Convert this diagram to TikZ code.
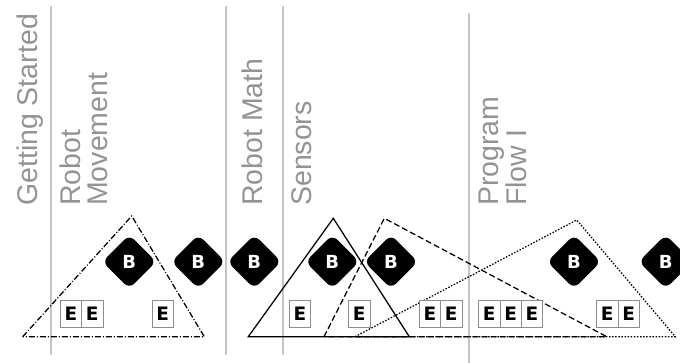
\documentclass[tikz,border=0pt]{standalone}
\usepackage{fontspec}
\setmainfont{Liberation Sans}
\newfontfamily\markfont{DejaVu Sans}
\usetikzlibrary{shapes.geometric}
\definecolor{rulegray}{HTML}{C4C4C4}
\definecolor{labelgray}{HTML}{939393}
\definecolor{boxgray}{HTML}{8C8C8C}
\begin{document}
\begin{tikzpicture}[x=1pt,y=-1pt,
  divider/.style={draw=rulegray, line width=1.2pt},
  unitlabel/.style={rotate=90, inner sep=0pt, text=labelgray, align=left,
    font=\fontsize{28.5}{27.5}\selectfont},
  tri/.style={line width=1.25pt, line join=miter},
  badge/.style={diamond, fill=black, rounded corners=7pt, inner sep=0pt,
    minimum width=54pt, minimum height=54pt, text=white,
    font=\markfont\bfseries\fontsize{18}{18}\selectfont},
  exbox/.style={rectangle, draw=boxgray, fill=white, line width=0.8pt,
    minimum width=21.3pt, minimum height=26.7pt, inner sep=0pt,
    font=\markfont\bfseries\fontsize{18.5}{18.5}\selectfont}]
\useasboundingbox (0,0) rectangle (680,363);

% column dividers
\draw[divider] (51,6) -- (51,355);
\draw[divider] (226,6) -- (226,355);
\draw[divider] (283,6) -- (283,355);
\draw[divider] (469,13) -- (469,363);

% column headings
\node[unitlabel, anchor=base west] (gs) at (37.3,206) {Getting Started};
\node[unitlabel, anchor=south west] (rmv) at (108.3,206) {Robot\\Movement};
\node[unitlabel, anchor=base west] (rmath) at (262.7,206) {Robot Math};
\node[unitlabel, anchor=base west] (sens) at (311.5,206) {Sensors};
\node[unitlabel, anchor=south west] (pf) at (526.7,206) {Program\\Flow I};

% grouping triangles
\draw[tri, dash pattern=on 6pt off 2pt on 1pt off 2pt]
  (22.7,336.7) -- (131.7,216) -- (204.3,336.7) -- cycle;
\draw[tri] (248.3,336.7) -- (333.3,218.3) -- (409.3,336.7) -- cycle;
\draw[tri, dash pattern=on 6pt off 3pt]
  (324,336.7) -- (384.3,218.3) -- (606.7,336.7) -- cycle;
\draw[tri, dash pattern=on 1.5pt off 1.6pt]
  (355,336.7) -- (576.7,220) -- (675.3,336.7) -- cycle;

% badges
\node[badge] (b1) at (129.3,261.7) {B};
\node[badge] (b2) at (198.3,261.7) {B};
\node[badge] (b3) at (254.3,261.7) {B};
\node[badge] (b4) at (332.3,261.7) {B};
\node[badge] (b5) at (391,261.7) {B};
\node[badge] (b6) at (574,261.7) {B};
\node[badge] (b7) at (665.7,261.7) {B};

% exercise boxes
\node[exbox] (e1) at (71,314) {E};
\node[exbox] (e2) at (92.3,314) {E};
\node[exbox] (e3) at (162.7,314) {E};
\node[exbox] (e4) at (300,314) {E};
\node[exbox] (e5) at (359.3,314) {E};
\node[exbox] (e6) at (430,314) {E};
\node[exbox] (e7) at (451.3,314) {E};
\node[exbox] (e8) at (489.3,314) {E};
\node[exbox] (e9) at (510.6,314) {E};
\node[exbox] (e10) at (531.9,314) {E};
\node[exbox] (e11) at (607.3,314) {E};
\node[exbox] (e12) at (628.6,314) {E};
\end{tikzpicture}
\end{document}
